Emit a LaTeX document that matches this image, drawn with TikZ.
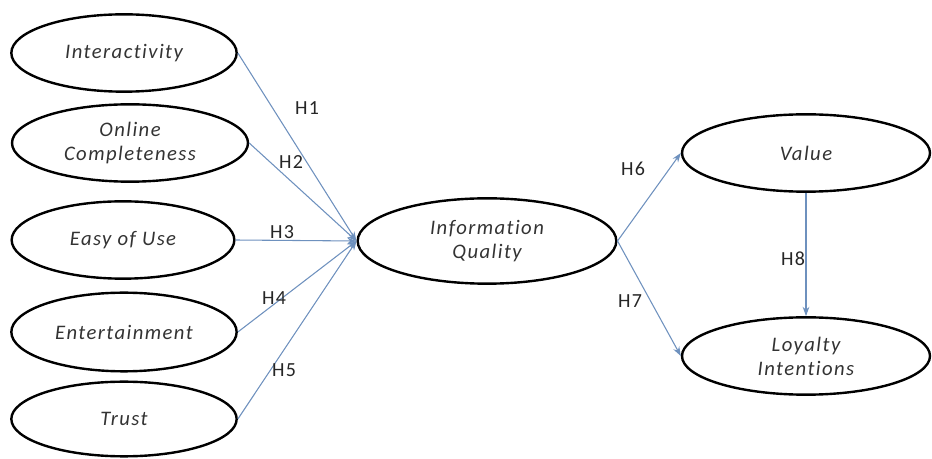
\documentclass[tikz,border=0pt]{standalone}
\usepackage{fontspec}
\setmainfont{Carlito}
\newfontfamily\spacedfont[LetterSpace=7,Ligatures={NoCommon,NoRequired,NoContextual}]{Carlito}
\usetikzlibrary{shapes.geometric,arrows.meta}

\definecolor{arrowblue}{RGB}{110,145,190}
\tikzset{
  construct/.style={ellipse, draw=black, line width=1.8pt, inner sep=0pt,
    align=center, text=black!80, font=\spacedfont\fontsize{15.5}{18}\selectfont\itshape},
  hyp/.style={draw=arrowblue, line width=0.8pt, -{Stealth[length=7pt,width=5pt]}},
  hlabel/.style={text=black!85, font=\spacedfont\fontsize{15}{17}\selectfont}
}

\begin{document}
\begin{tikzpicture}[x=0.75pt,y=-0.75pt]
  \useasboundingbox (0,0) rectangle (932,459);
  % antecedents on the left
  \node[construct, minimum width=169pt, minimum height=58pt] (interact) at (124,53) {Interactivity};
  \node[construct, minimum width=177pt, minimum height=58pt] (online) at (130,143) {Online\\Completeness};
  \node[construct, minimum width=167pt, minimum height=58pt] (easy) at (123,240) {Easy of Use};
  \node[construct, minimum width=169pt, minimum height=59pt] (entert) at (124,332) {Entertainment};
  \node[construct, minimum width=169pt, minimum height=56pt] (trust) at (124,419) {Trust};
  % mediator and outcomes
  \node[construct, minimum width=194pt, minimum height=64pt] (infoq) at (487,241) {Information\\Quality};
  \node[construct, minimum width=186pt, minimum height=58pt] (value) at (806,153) {Value};
  \node[construct, minimum width=186pt, minimum height=58pt] (loyalty) at (806,356) {Loyalty\\Intentions};

  \draw[hyp] (interact.east) -- (infoq.west);
  \draw[hyp] (online.east) -- (infoq.west);
  \draw[hyp] (easy.east) -- (infoq.west);
  \draw[hyp] (entert.east) -- (infoq.west);
  \draw[hyp] (trust.east) -- (infoq.west);
  \draw[hyp] (infoq.east) -- (value.west);
  \draw[hyp] (infoq.east) -- (loyalty.west);
  \draw[hyp] (value.south) -- (loyalty.north);

  % hypothesis labels
  \node[hlabel] (h1) at (307,108) {H1};
  \node[hlabel] (h2) at (291,162) {H2};
  \node[hlabel] (h3) at (282,232) {H3};
  \node[hlabel] (h4) at (274,298) {H4};
  \node[hlabel] (h5) at (284,370) {H5};
  \node[hlabel] (h6) at (633,169) {H6};
  \node[hlabel] (h7) at (630,301) {H7};
  \node[hlabel] (h8) at (793,259) {H8};
\end{tikzpicture}
\end{document}
